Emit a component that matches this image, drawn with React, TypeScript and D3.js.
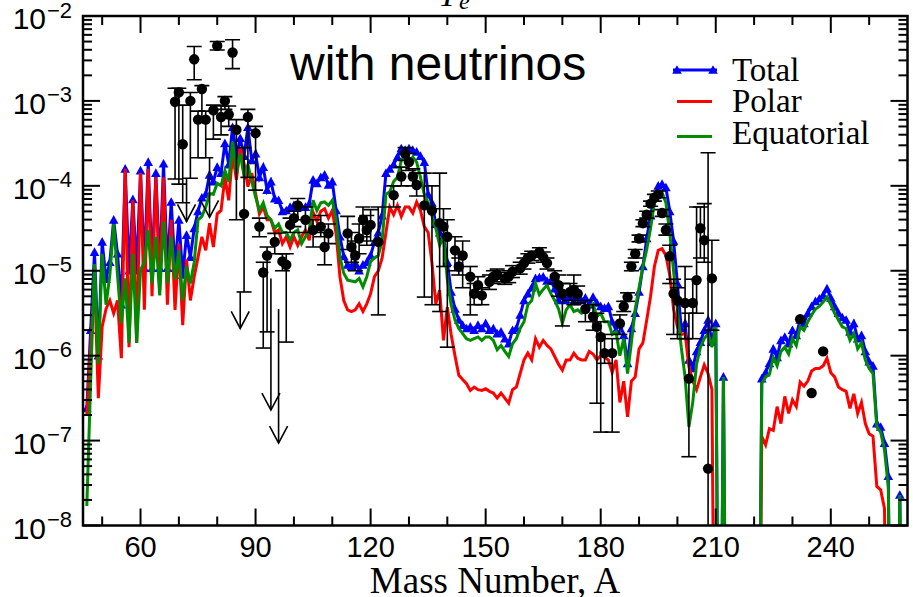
import React from 'react';
import * as d3 from 'd3';

// ---------------- DATA ----------------
// Theory curves: log10 abundance for mass numbers A = 46 .. 259 (-12 = off scale / zero)
const massStart = 46;

const totalLog10 = [
  -6.62,-5.70,-4.78,-6.00,-4.66,-5.10,-4.90,-4.40,-4.80,-5.40,
  -3.80,-5.00,-4.16,-5.00,-3.82,-4.97,-3.72,-4.97,-3.85,-4.97,
  -3.74,-4.97,-4.19,-4.97,-4.40,-5.05,-4.58,-4.84,-4.50,-4.30,
  -4.14,-4.10,-3.87,-3.95,-3.78,-3.85,-3.50,-3.75,-3.31,-3.65,
  -3.44,-3.65,-3.31,-3.70,-3.62,-3.90,-3.78,-4.05,-3.95,-4.15,
  -4.17,-4.30,-4.29,-4.25,-4.23,-4.25,-4.25,-4.25,-4.21,-3.93,
  -3.97,-3.90,-3.87,-3.99,-3.95,-4.29,-4.60,-4.83,-4.93,-4.95,
  -4.91,-5.00,-4.93,-4.90,-4.82,-4.66,-4.55,-4.35,-3.85,-3.80,
  -3.75,-3.66,-3.56,-3.58,-3.56,-3.58,-3.60,-3.65,-3.72,-4.10,
  -4.20,-4.45,-4.55,-4.60,-4.90,-5.25,-5.45,-5.58,-5.64,-5.68,
  -5.66,-5.70,-5.64,-5.68,-5.62,-5.70,-5.68,-5.74,-5.72,-5.80,
  -5.86,-5.70,-5.68,-5.52,-5.35,-5.27,-5.20,-5.09,-5.08,-5.07,
  -5.12,-5.12,-5.21,-5.35,-5.30,-5.35,-5.30,-5.36,-5.30,-5.35,
  -5.32,-5.40,-5.31,-5.38,-5.42,-5.44,-5.42,-5.60,-5.70,-5.62,
  -5.76,-6.09,-5.68,-5.50,-5.25,-4.95,-4.62,-4.35,-4.13,-4.00,
  -3.98,-4.02,-4.30,-4.65,-5.15,-5.68,-5.62,-6.05,-6.15,-5.95,
  -5.84,-5.70,-5.58,-5.84,-5.62,-12,-6.25,-12,-12,-12,
  -12,-12,-12,-12,-12,-12,-6.27,-6.20,-6.09,-5.92,
  -6.02,-5.82,-5.78,-5.86,-5.70,-5.76,-5.58,-5.62,-5.50,-5.42,
  -5.36,-5.33,-5.29,-5.21,-5.32,-5.42,-5.50,-5.55,-5.58,-5.72,
  -5.62,-5.80,-5.76,-5.95,-6.07,-6.12,-6.80,-6.84,-7.03,-7.42,
  -12,-12,-7.64,-12,
];

const polarLog10 = [
  -6.70,-5.90,-5.10,-6.50,-5.66,-5.45,-5.35,-5.50,-5.35,-6.03,
  -3.80,-5.90,-4.17,-5.85,-3.85,-5.46,-3.80,-5.30,-3.90,-5.23,
  -3.90,-5.40,-4.40,-5.46,-4.68,-5.64,-4.87,-5.35,-5.07,-4.84,
  -4.60,-4.76,-4.44,-4.72,-4.33,-4.29,-3.90,-4.17,-3.62,-3.93,
  -3.55,-3.74,-4.01,-3.85,-4.09,-4.33,-4.25,-4.40,-4.40,-4.55,
  -4.52,-4.68,-4.60,-4.72,-4.60,-4.70,-4.60,-4.52,-4.64,-4.31,
  -4.42,-4.30,-4.27,-4.38,-4.29,-4.56,-5.07,-5.35,-5.46,-5.48,
  -5.46,-5.39,-5.48,-5.39,-5.27,-5.07,-5.00,-4.85,-4.55,-4.25,
  -4.34,-4.23,-4.36,-4.25,-4.25,-4.32,-4.19,-4.29,-4.48,-4.55,
  -4.91,-5.39,-5.23,-5.82,-5.43,-5.75,-6.00,-6.23,-6.28,-6.33,
  -6.41,-6.37,-6.40,-6.41,-6.39,-6.42,-6.44,-6.50,-6.44,-6.50,
  -6.56,-6.40,-6.37,-6.21,-6.05,-5.97,-6.05,-5.80,-5.90,-5.82,
  -5.88,-5.92,-6.01,-6.10,-6.17,-6.05,-6.05,-5.97,-6.03,-6.05,
  -6.05,-5.95,-5.98,-6.05,-6.00,-6.02,-6.05,-6.20,-6.05,-6.55,
  -6.30,-6.72,-6.30,-6.25,-5.92,-5.85,-5.58,-5.30,-4.95,-4.76,
  -4.74,-4.82,-5.05,-5.45,-5.66,-5.75,-5.74,-6.13,-6.30,-6.40,
  -6.25,-6.11,-6.21,-6.40,-12,-12,-12,-12,-12,-12,
  -12,-12,-12,-12,-12,-12,-6.95,-7.05,-6.86,-6.88,
  -6.60,-6.80,-6.48,-6.68,-6.52,-6.60,-6.31,-6.36,-6.30,-6.18,
  -6.15,-6.15,-6.12,-6.03,-6.20,-6.25,-6.37,-6.40,-6.42,-6.62,
  -6.45,-6.68,-6.55,-6.80,-6.92,-6.95,-7.54,-7.58,-7.80,-12,
  -12,-12,-12,-12,
];

const equatorialLog10 = [
  -7.77,-6.30,-4.92,-6.10,-4.80,-5.40,-5.05,-4.45,-5.05,-5.62,
  -5.09,-5.85,-4.80,-5.85,-4.99,-4.90,-4.52,-5.15,-4.60,-5.29,
  -4.42,-5.15,-4.60,-5.10,-4.76,-5.35,-4.95,-5.15,-4.90,-4.40,
  -4.36,-4.25,-4.09,-4.10,-3.97,-4.00,-3.82,-3.95,-3.48,-3.85,
  -3.62,-3.89,-3.75,-3.95,-4.13,-4.29,-4.20,-4.35,-4.40,-4.50,
  -4.45,-4.55,-4.55,-4.64,-4.55,-4.52,-4.68,-4.60,-4.52,-4.17,
  -4.29,-4.20,-4.19,-4.23,-4.17,-4.40,-4.84,-5.03,-5.11,-5.12,
  -5.13,-5.09,-5.19,-5.07,-4.89,-4.85,-4.82,-4.65,-4.10,-4.07,
  -3.95,-3.90,-3.70,-3.64,-3.75,-3.66,-3.72,-3.90,-4.10,-4.20,
  -4.35,-4.50,-4.70,-4.60,-5.10,-5.40,-5.58,-5.68,-5.74,-5.80,
  -5.82,-5.80,-5.78,-5.82,-5.78,-5.78,-5.82,-5.93,-5.88,-5.95,
  -6.01,-5.86,-5.80,-5.68,-5.60,-5.40,-5.35,-5.15,-5.28,-5.22,
  -5.17,-5.27,-5.35,-5.45,-5.62,-5.46,-5.40,-5.48,-5.46,-5.50,
  -5.48,-5.42,-5.39,-5.54,-5.50,-5.60,-5.60,-5.75,-5.72,-6.00,
  -5.80,-6.21,-5.85,-5.45,-5.20,-4.95,-4.75,-4.50,-4.20,-4.10,
  -4.08,-4.20,-4.55,-5.00,-5.46,-5.90,-6.25,-6.84,-6.55,-6.10,
  -5.90,-5.80,-5.74,-5.90,-5.66,-12,-6.25,-12,-12,-12,
  -12,-12,-12,-12,-12,-12,-6.33,-6.25,-6.22,-6.02,
  -6.12,-5.95,-5.90,-5.98,-5.80,-5.88,-5.66,-5.70,-5.60,-5.52,
  -5.45,-5.42,-5.37,-5.31,-5.40,-5.50,-5.58,-5.66,-5.68,-5.82,
  -5.74,-5.92,-5.85,-6.05,-6.15,-6.21,-6.84,-6.90,-7.11,-7.55,
  -12,-12,-7.64,-12,
];

// Observed (solar) abundances: mass number, log10 value, error bar top / bottom (log10)
const obsA = [69,70,71,73,74,75,76,77,79,80,81,82,83,84,85,87,88,90,91,92,93,95,97,98,99,100,101,103,105,107,108,109,
  114,115,116,117,118,119,120,122,126,128,129,130,131,132,134,136,138,139,140,142,143,144,146,147,148,149,151,152,153,
  155,156,157,159,160,161,162,164,165,166,168,169,170,172,173,174,176,178,179,180,181,183,185,186,187,188,189,190,191,
  192,193,194,195,196,197,198,199,200,202,203,204,205,206,207,208,209,232,235,238];
const obsLog10 = [-3.01,-2.90,-3.51,-3.00,-2.51,-3.22,-2.86,-3.22,-3.11,-2.35,-3.19,-3.00,-3.16,-2.43,-3.34,-4.33,-3.19,-3.38,-4.48,-5.02,-4.82,-4.66,-4.89,-4.93,-4.46,-4.38,-4.23,-4.40,-4.52,-4.48,-4.72,-4.56,
  -4.56,-4.72,-4.82,-4.62,-4.40,-4.52,-4.46,-4.66,-4.11,-3.89,-3.62,-3.72,-3.89,-3.99,-4.23,-4.29,-4.44,-4.48,-4.60,-4.76,-4.95,-4.82,-5.07,-5.27,-5.17,-5.29,-5.13,-5.07,-5.05,
  -5.09,-5.07,-5.01,-4.97,-4.91,-4.85,-4.82,-4.78,-4.84,-4.91,-5.07,-5.17,-5.27,-5.25,-5.23,-5.27,-5.45,-5.54,-5.66,-5.78,-5.97,-5.97,-5.62,-5.42,-5.31,-4.95,-4.80,-4.62,-4.44,
  -4.34,-4.21,-4.14,-4.10,-4.32,-4.52,-4.83,-5.27,-5.35,-5.38,-6.27,-5.38,-5.11,-4.50,-4.64,-7.33,-5.09,-5.57,-6.44,-5.95];
const obsHiLog10 = [-2.85,-2.85,-3.05,-2.90,-2.36,-3.12,-2.82,-3.12,-3.05,-2.30,-3.06,-2.95,-3.06,-2.28,-3.22,-3.55,-3.10,-3.30,-4.38,-4.90,-4.72,-4.56,-4.80,-4.80,-4.38,-4.30,-4.15,-4.25,-4.40,-4.35,-4.55,-4.45,
  -4.36,-4.55,-4.65,-4.45,-4.25,-4.35,-4.28,-4.25,-4.00,-3.78,-3.55,-3.62,-3.80,-3.85,-3.85,-4.00,-3.85,-4.27,-4.40,-4.60,-4.85,-4.65,-4.95,-5.15,-5.07,-5.20,-5.05,-5.00,-4.98,
  -5.02,-5.00,-4.94,-4.90,-4.85,-4.80,-4.77,-4.73,-4.78,-4.85,-5.00,-5.05,-5.15,-5.15,-5.05,-5.18,-5.35,-5.40,-5.50,-5.60,-5.75,-5.80,-5.52,-5.36,-5.26,-4.90,-4.75,-4.58,-4.40,
  -4.30,-4.18,-4.10,-4.06,-4.28,-4.45,-4.70,-5.10,-5.20,-4.95,-5.50,-5.10,-4.25,-4.25,-4.21,-3.61,-4.64,-5.57,-6.44,-5.95];
const obsLoLog10 = [-3.92,-3.98,-4.20,-3.91,-2.75,-3.67,-3.25,-3.67,-3.45,-2.40,-3.40,-3.10,-3.30,-2.62,-4.40,-5.25,-3.90,-4.05,-4.60,-5.91,-5.72,-4.80,-5.00,-5.84,-4.55,-4.48,-4.40,-4.55,-4.72,-4.60,-4.93,-4.68,
  -4.75,-4.90,-5.00,-4.80,-4.60,-4.70,-4.65,-5.52,-4.25,-4.00,-3.70,-3.82,-4.00,-4.12,-5.31,-5.40,-5.48,-4.95,-5.90,-5.00,-5.05,-5.20,-5.52,-5.40,-5.30,-5.40,-5.22,-5.15,-5.13,
  -5.16,-5.14,-5.08,-5.04,-4.98,-4.91,-4.88,-4.84,-4.90,-4.98,-5.15,-5.30,-5.65,-5.35,-5.40,-5.38,-5.60,-5.70,-6.56,-6.90,-6.09,-6.90,-5.75,-5.48,-5.36,-5.00,-4.85,-4.66,-4.48,
  -4.38,-4.24,-4.18,-4.14,-4.36,-4.58,-5.15,-5.75,-5.80,-5.80,-7.19,-5.80,-5.50,-4.85,-4.90,-9.00,-5.70,-5.57,-6.44,-5.95];

// Upper limits (down arrows): mass number, line top, arrow tip (log10)
const limitA = [72, 78, 86, 94, 96];
const limitFromLog10 = [-3.92, -3.67, -5.25, -5.09, -5.45];
const limitToLog10 = [-4.42, -4.37, -5.68, -6.64, -7.03];

const seriesNames = ['Total', 'Polar', 'Equatorial'];
const seriesColors = ['#0000ff', '#ff0000', '#008c00'];
const yDecades = [-8, -7, -6, -5, -4, -3, -2];
const xTickValues = [60, 90, 120, 150, 180, 210, 240];

// ---------------- CHART ----------------
const SANS = "'Liberation Sans', Arial, Helvetica, sans-serif";
const SERIF = "'Liberation Serif', 'Times New Roman', Times, serif";

export default function App() {
  const L = 83, R = 907.5, T = 16, B = 525.5;
  const x = d3.scaleLinear().domain([45, 260]).range([L, R]);
  const y = d3.scaleLog().domain([1e-8, 1e-2]).range([B, T]);
  const v = (l: number) => Math.pow(10, l);

  const mk = (arr: number[]) => arr.map((l, i) => [massStart + i, v(l)] as [number, number]);
  const total = mk(totalLog10);
  const polar = mk(polarLog10);
  const equat = mk(equatorialLog10);

  const line = d3.line<[number, number]>().x(d => x(d[0])).y(d => y(d[1]));

  const yTicks = y.ticks();
  const isMajor = (t: number) => Math.abs(Math.log10(t) - Math.round(Math.log10(t))) < 1e-6;
  const xMinor = d3.range(50, 260, 10);

  const tri = (cx: number, cy: number, s = 4.8) =>
    `M${cx},${cy - s}L${cx - s},${cy + s * 0.8}L${cx + s},${cy + s * 0.8}Z`;

  const majLen = 17, minLen = 9;

  return (
    <svg width={913} height={597} style={{ position: 'absolute', left: 0, top: 0, background: '#fff' }}
      xmlns="http://www.w3.org/2000/svg">
      <defs>
        <clipPath id="plotClip">
          <rect x={L} y={T} width={R - L} height={B - T} />
        </clipPath>
      </defs>
      <rect x={0} y={0} width={913} height={597} fill="#fff" />

      {/* cut-off title at the top */}
      <text x={438} y={6} fontFamily={SERIF} fontStyle="italic" fontSize={34} fill="#000">Y</text>
      <text x={459} y={9} fontFamily={SERIF} fontStyle="italic" fontSize={24} fill="#000">e</text>

      <g clipPath="url(#plotClip)">
        {/* Total */}
        <path d={line(total) || ''} fill="none" stroke={seriesColors[0]} strokeWidth={3} strokeLinejoin="miter" />
        {total.map((d, i) => (
          <path key={'t' + i} d={tri(x(d[0]), y(d[1]))} fill={seriesColors[0]} />
        ))}
        {/* Polar */}
        <path d={line(polar) || ''} fill="none" stroke={seriesColors[1]} strokeWidth={3} />
        {/* Equatorial */}
        <path d={line(equat) || ''} fill="none" stroke={seriesColors[2]} strokeWidth={3} />

        {/* observed data with error bars */}
        <g stroke="#000" strokeWidth={1.6} fill="none">
          {obsA.map((a, i) => {
            const cx = x(a);
            const yh = y(v(obsHiLog10[i]));
            const yl = y(v(obsLoLog10[i]));
            if (Math.abs(yh - yl) < 1) return null;
            return (
              <g key={'e' + i}>
                <line x1={cx} x2={cx} y1={yh} y2={yl} />
                <line x1={cx - 7.5} x2={cx + 7.5} y1={yh} y2={yh} />
                <line x1={cx - 7.5} x2={cx + 7.5} y1={yl} y2={yl} />
              </g>
            );
          })}
          {limitA.map((a, i) => {
            const cx = x(a);
            const y0 = y(v(limitFromLog10[i]));
            const y1 = y(v(limitToLog10[i]));
            return (
              <g key={'u' + i}>
                <line x1={cx} x2={cx} y1={y0} y2={y1} />
                <polyline points={`${cx - 9},${y1 - 17} ${cx},${y1} ${cx + 9},${y1 - 17}`} />
              </g>
            );
          })}
        </g>
        {obsA.map((a, i) => (
          <circle key={'o' + i} cx={x(a)} cy={y(v(obsLog10[i]))} r={5.2} fill="#000" />
        ))}
      </g>

      {/* frame */}
      <rect x={L} y={T} width={R - L} height={B - T} fill="none" stroke="#000" strokeWidth={2.5} />

      {/* x ticks */}
      <g stroke="#000" strokeWidth={2}>
        {xMinor.map(t => {
          const len = xTickValues.includes(t) ? majLen : minLen;
          return (
            <g key={'xt' + t}>
              <line x1={x(t)} x2={x(t)} y1={B} y2={B - len} />
              <line x1={x(t)} x2={x(t)} y1={T} y2={T + len} />
            </g>
          );
        })}
      </g>
      {xTickValues.map(t => (
        <text key={'xl' + t} x={x(t)} y={557} textAnchor="middle" fontFamily={SANS} fontSize={29} fill="#000">{t}</text>
      ))}

      {/* y ticks */}
      <g stroke="#000" strokeWidth={2}>
        {yTicks.map((t, i) => {
          const len = isMajor(t) ? majLen : minLen;
          const yy = y(t);
          return (
            <g key={'yt' + i}>
              <line x1={L} x2={L + len} y1={yy} y2={yy} />
              <line x1={R} x2={R - len} y1={yy} y2={yy} />
            </g>
          );
        })}
      </g>
      {yDecades.map(p => {
        const yy = y(v(p));
        return (
          <g key={'yl' + p}>
            <text x={46} y={yy + 13} textAnchor="end" fontFamily={SANS} fontSize={30} fill="#000">10</text>
            <text x={47} y={yy + 1.5} textAnchor="start" fontFamily={SANS} fontSize={22} fill="#000">{'\u2212' + Math.abs(p)}</text>
          </g>
        );
      })}

      {/* axis title */}
      <text x={495} y={593} textAnchor="middle" fontFamily={SERIF} fontSize={37} fill="#000">Mass Number, A</text>

      {/* annotation */}
      <text x={290} y={80} fontFamily={SANS} fontSize={48} fill="#000">with neutrinos</text>

      {/* legend */}
      <g>
        <line x1={673} x2={717} y1={70} y2={70} stroke={seriesColors[0]} strokeWidth={3} />
        <path d={tri(677, 70)} fill={seriesColors[0]} />
        <path d={tri(713, 70)} fill={seriesColors[0]} />
        <line x1={677} x2={712} y1={101.5} y2={101.5} stroke={seriesColors[1]} strokeWidth={3} />
        <line x1={677} x2={712} y1={136.5} y2={136.5} stroke={seriesColors[2]} strokeWidth={3} />
        <text x={732} y={81} fontFamily={SERIF} fontSize={33} fill="#000">{seriesNames[0]}</text>
        <text x={732} y={112} fontFamily={SERIF} fontSize={33} fill="#000">{seriesNames[1]}</text>
        <text x={732} y={144} fontFamily={SERIF} fontSize={33} fill="#000">{seriesNames[2]}</text>
      </g>
    </svg>
  );
}
